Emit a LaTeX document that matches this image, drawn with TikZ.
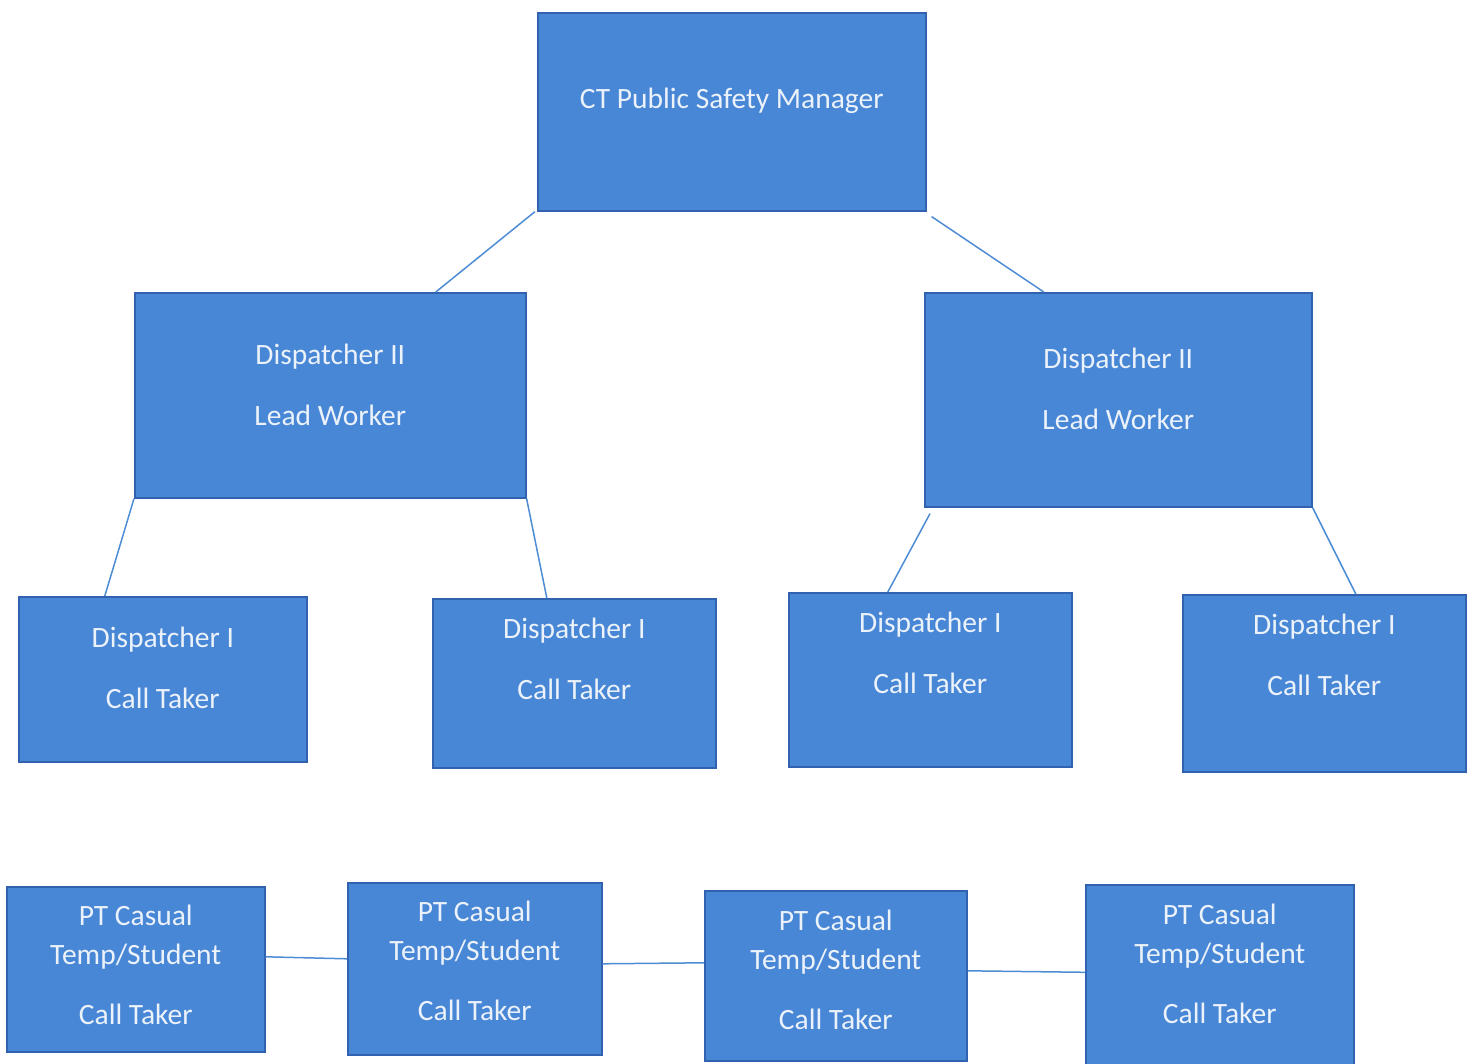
\documentclass[tikz,border=0pt]{standalone}
\usepackage{fontspec}
\setmainfont{Carlito}
\usetikzlibrary{calc}
\definecolor{boxfill}{RGB}{72,134,214}
\definecolor{boxline}{RGB}{48,98,176}
\definecolor{linkcol}{RGB}{78,140,212}
\definecolor{txtcol}{RGB}{236,242,250}
\tikzset{
  box/.style={draw=boxline, line width=1.6pt, fill=boxfill, anchor=north west, inner sep=0pt},
  lbl/.style={text=txtcol, align=center, inner sep=0pt, font=\fontsize{29.5}{61}\selectfont},
  lblpt/.style={text=txtcol, align=center, inner sep=0pt, font=\fontsize{29.5}{39}\selectfont},
  link/.style={draw=linkcol, line width=1.5pt}
}
\begin{document}
\begin{tikzpicture}[x=1pt,y=-1pt]
\useasboundingbox (0,0) rectangle (1475,1063);
% top
\node[box, minimum width=388pt, minimum height=198pt] (top) at (537,12) {};
\node[lbl] (topt) at ([yshift=11pt]top.center) {CT Public Safety Manager};
% level 2
\node[box, minimum width=391pt, minimum height=205pt] (l2a) at (134,292) {};
\node[lbl] (l2at) at ([yshift=10pt]l2a.center) {Dispatcher II\\Lead Worker};
\node[box, minimum width=387pt, minimum height=214pt] (l2b) at (924,292) {};
\node[lbl] (l2bt) at ([yshift=10.5pt]l2b.center) {Dispatcher II\\Lead Worker};
% level 3
\node[box, minimum width=288pt, minimum height=165pt] (l3a) at (18,596) {};
\node[lbl] (l3at) at ([yshift=11.5pt]l3a.center) {Dispatcher I\\Call Taker};
\node[box, minimum width=283pt, minimum height=169pt] (l3b) at (432,598) {};
\node[lbl] (l3bt) at ([yshift=24pt]l3b.center) {Dispatcher I\\Call Taker};
\node[box, minimum width=283pt, minimum height=174pt] (l3c) at (788,592) {};
\node[lbl] (l3ct) at ([yshift=27pt]l3c.center) {Dispatcher I\\Call Taker};
\node[box, minimum width=283pt, minimum height=177pt] (l3d) at (1182,594) {};
\node[lbl] (l3dt) at ([yshift=28.5pt]l3d.center) {Dispatcher I\\Call Taker};
% level 4
\node[box, minimum width=258pt, minimum height=165pt] (l4a) at (6,886) {};
\node[lblpt] (l4at) at ([yshift=4pt]l4a.center) {PT Casual\\Temp/Student\\[21pt]Call Taker};
\node[box, minimum width=254pt, minimum height=172pt] (l4b) at (347,882) {};
\node[lblpt] (l4bt) at ([yshift=8pt]l4b.center) {PT Casual\\Temp/Student\\[21pt]Call Taker};
\node[box, minimum width=262pt, minimum height=170pt] (l4c) at (704,890) {};
\node[lblpt] (l4ct) at ([yshift=6pt]l4c.center) {PT Casual\\Temp/Student\\[21pt]Call Taker};
\node[box, minimum width=268pt, minimum height=180pt] (l4d) at (1085,884) {};
\node[lblpt] (l4dt) at ([yshift=11pt]l4d.center) {PT Casual\\Temp/Student\\[21pt]Call Taker};
% connectors
\draw[link] ([xshift=-2pt]top.south west) -- ([xshift=105.5pt]l2a.north);
\draw[link] ([xshift=5pt,yshift=-5pt]top.south east) -- ([xshift=-74.5pt]l2b.north);
\draw[link] (l2a.south west) -- ([xshift=-58pt]l3a.north);
\draw[link] (l2a.south east) -- ([xshift=-27.5pt]l3b.north);
\draw[link] ([xshift=6pt,yshift=-6pt]l2b.south west) -- ([xshift=-42.5pt]l3c.north);
\draw[link] (l2b.south east) -- ([xshift=31.5pt]l3d.north);
\draw[link] ([yshift=12.5pt]l4a.east) -- ([yshift=10pt]l4b.west);
\draw[link] ([yshift=5pt]l4b.east) -- ([yshift=13pt]l4c.west);
\draw[link] ([yshift=5pt]l4c.east) -- ([yshift=2.5pt]l4d.west);
\end{tikzpicture}
\end{document}
